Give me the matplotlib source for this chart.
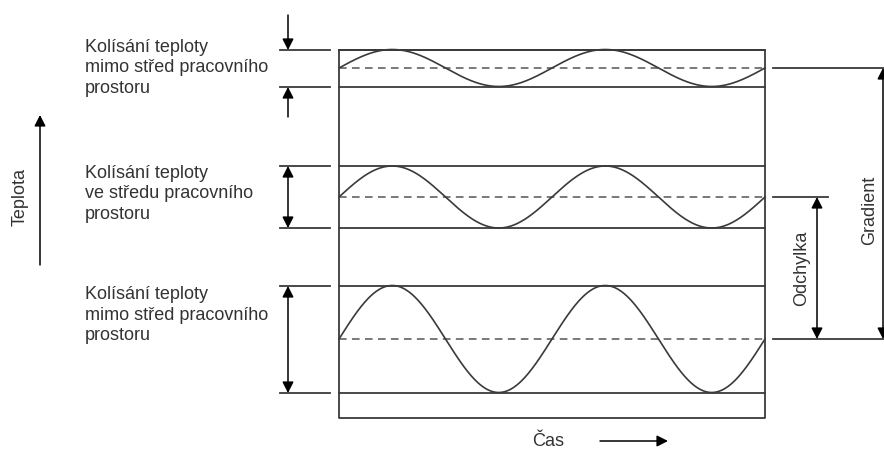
import matplotlib.pyplot as plt
import numpy as np

plt.rcParams['font.family'] = ['Liberation Sans', 'DejaVu Sans']

# band layout (pixel coordinates, y grows downward)
band_labels = [
    'Kolísání teploty\nmimo střed pracovního\nprostoru',
    'Kolísání teploty\nve středu pracovního\nprostoru',
    'Kolísání teploty\nmimo střed pracovního\nprostoru',
]
label_mid_y = [68, 194, 315]
band_tops = [50, 166, 286]
band_centers = [68, 197, 339]
band_bottoms = [87, 228, 393]
n_cycles = 2

box_left, box_right = 339, 765
box_top, box_bottom = 50, 418

line_col = '#3a3a3a'
text_col = '#333333'
fs = 13


def arrow(ax, tail, tip, style='-|>'):
    ax.annotate('', xy=tip, xytext=tail,
                arrowprops=dict(arrowstyle=style + ',head_length=0.55,head_width=0.28',
                                color='black', lw=1.1, shrinkA=0, shrinkB=0,
                                mutation_scale=12))


fig = plt.figure(figsize=(8.84, 4.5), dpi=100)
ax = fig.add_axes([0, 0, 1, 1])
ax.set_xlim(0, 884)
ax.set_ylim(450, 0)
ax.axis('off')

# outer box
ax.plot([box_left, box_left, box_right, box_right, box_left],
        [box_top, box_bottom, box_bottom, box_top, box_top], color=line_col, lw=1.3)

x = np.linspace(box_left, box_right, 600)
for label, ly, top, mid, bot in zip(band_labels, label_mid_y, band_tops,
                                    band_centers, band_bottoms):
    amp = (bot - top) / 2
    ax.plot([box_left, box_right], [top, top], color=line_col, lw=1.3)
    ax.plot([box_left, box_right], [bot, bot], color=line_col, lw=1.3)
    ax.plot([box_left, box_right], [mid, mid], color='#555555', lw=1.1, ls=(0, (5, 3.5)))
    wave = mid - amp * np.sin(2 * np.pi * n_cycles * (x - box_left) / (box_right - box_left))
    ax.plot(x, wave, color=line_col, lw=1.2)
    # left tick lines
    ax.plot([280, 330], [top, top], color=line_col, lw=1.3)
    ax.plot([280, 330], [bot, bot], color=line_col, lw=1.3)
    ax.text(85, ly, label, fontsize=fs, color=text_col, va='center', ha='left',
            linespacing=1.3)

# amplitude arrows on the left
arrow(ax, (288, 15), (288, band_tops[0]))
arrow(ax, (288, 117), (288, band_bottoms[0]))
for top, bot in zip(band_tops[1:], band_bottoms[1:]):
    arrow(ax, (288, bot), (288, top), style='<|-|>')

# right side reference lines
ax.plot([773, 884], [band_centers[0], band_centers[0]], color=line_col, lw=1.3)
ax.plot([773, 828], [band_centers[1], band_centers[1]], color=line_col, lw=1.3)
ax.plot([773, 884], [band_centers[2], band_centers[2]], color=line_col, lw=1.3)
arrow(ax, (817, band_centers[2]), (817, band_centers[1]), style='<|-|>')
arrow(ax, (883, band_centers[2]), (883, band_centers[0]), style='<|-|>')
ax.text(802, (band_centers[1] + band_centers[2]) / 2, 'Odchylka', rotation=90,
        fontsize=fs, color=text_col, ha='center', va='center')
ax.text(870, 210, 'Gradient', rotation=90, fontsize=fs, color=text_col,
        ha='center', va='center')

# axis hints
arrow(ax, (40, 265), (40, 115))
ax.text(20, 197, 'Teplota', rotation=90, fontsize=fs, color=text_col,
        ha='center', va='center')
ax.text(548, 441, 'Čas', fontsize=fs, color=text_col, ha='center', va='center')
arrow(ax, (600, 441), (668, 441))

fig.savefig('out.png', dpi=100, facecolor='white')
